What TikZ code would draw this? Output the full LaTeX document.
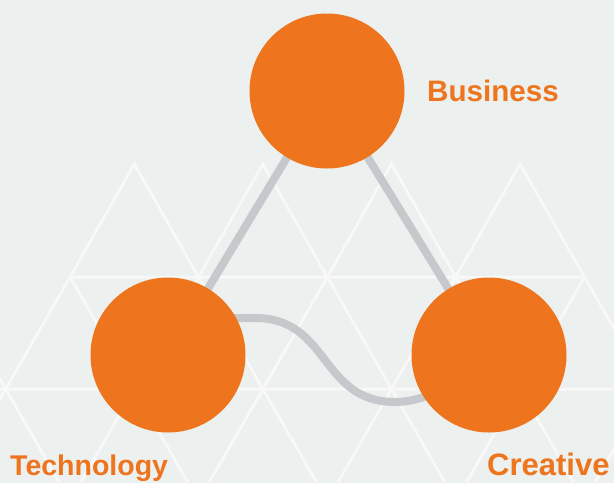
\documentclass[tikz,border=0pt]{standalone}
\usepackage{fontspec}
\newfontfamily\labfont{Liberation Sans}
\definecolor{bgc}{HTML}{ECF0EE}
\definecolor{latc}{HTML}{F7F8F7}
\definecolor{orng}{HTML}{EE741E}
\definecolor{connc}{HTML}{C5C9CB}
\pgfdeclarelayer{bg}
\pgfdeclarelayer{mid}
\pgfsetlayers{bg,mid,main}
\tikzset{
  hub/.style={circle, fill=orng, draw=none, minimum size=155pt, inner sep=0pt},
  conn/.style={draw=connc, line width=8pt},
  lat/.style={draw=latc, line width=3pt, line join=miter},
  lbl/.style={text=orng, font=\labfont\bfseries, inner sep=0pt}
}
\begin{document}
\begin{tikzpicture}[x=1pt, y=-1pt]
\useasboundingbox (0,0) rectangle (614,483);
\begin{pgfonlayer}{bg}
  \fill[bgc] (0,0) rectangle (614,483);
  \begin{scope}
    \clip (0,0) rectangle (614,483);
    % row 0
    \foreach \ax in {134.3,262.9,391.5,520.1}
      \draw[lat] (\ax,164) -- ++(-64.3,113) -- ++(128.6,0) -- cycle;
    % row 1
    \foreach \ax in {-58.6,70,198.6,327.2,455.8,584.4}
      \draw[lat] (\ax,277) -- ++(-64.3,112) -- ++(128.6,0) -- cycle;
    % row 2
    \foreach \ax in {5.7,134.3,262.9,391.5,520.1,648.7}
      \draw[lat] (\ax,389) -- ++(-64.3,112) -- ++(128.6,0) -- cycle;
  \end{scope}
\end{pgfonlayer}

\node[hub] (B) at (327,91) {};
\node[hub] (T) at (168,355) {};
\node[hub] (C) at (489,355) {};

\begin{pgfonlayer}{mid}
  \draw[conn] (B.center) -- (T.center);
  \draw[conn] (B.center) -- (C.center);
  \draw[conn] (T.center) -- (230,318) -- (255,318)
     .. controls (330,318) and (320,402) .. (395,402)
     .. controls (420,402) and (450,390) .. (C.center);
\end{pgfonlayer}

\node[lbl, anchor=base west] (lb) at (427,101) {\fontsize{29.6pt}{30pt}\selectfont Business};
\node[lbl, anchor=base west] (lt) at (10,475) {\fontsize{28.5pt}{30pt}\selectfont Technology};
\node[lbl, anchor=base west] (lc) at (487,475) {\fontsize{31pt}{31pt}\selectfont Creative};
\end{tikzpicture}
\end{document}
